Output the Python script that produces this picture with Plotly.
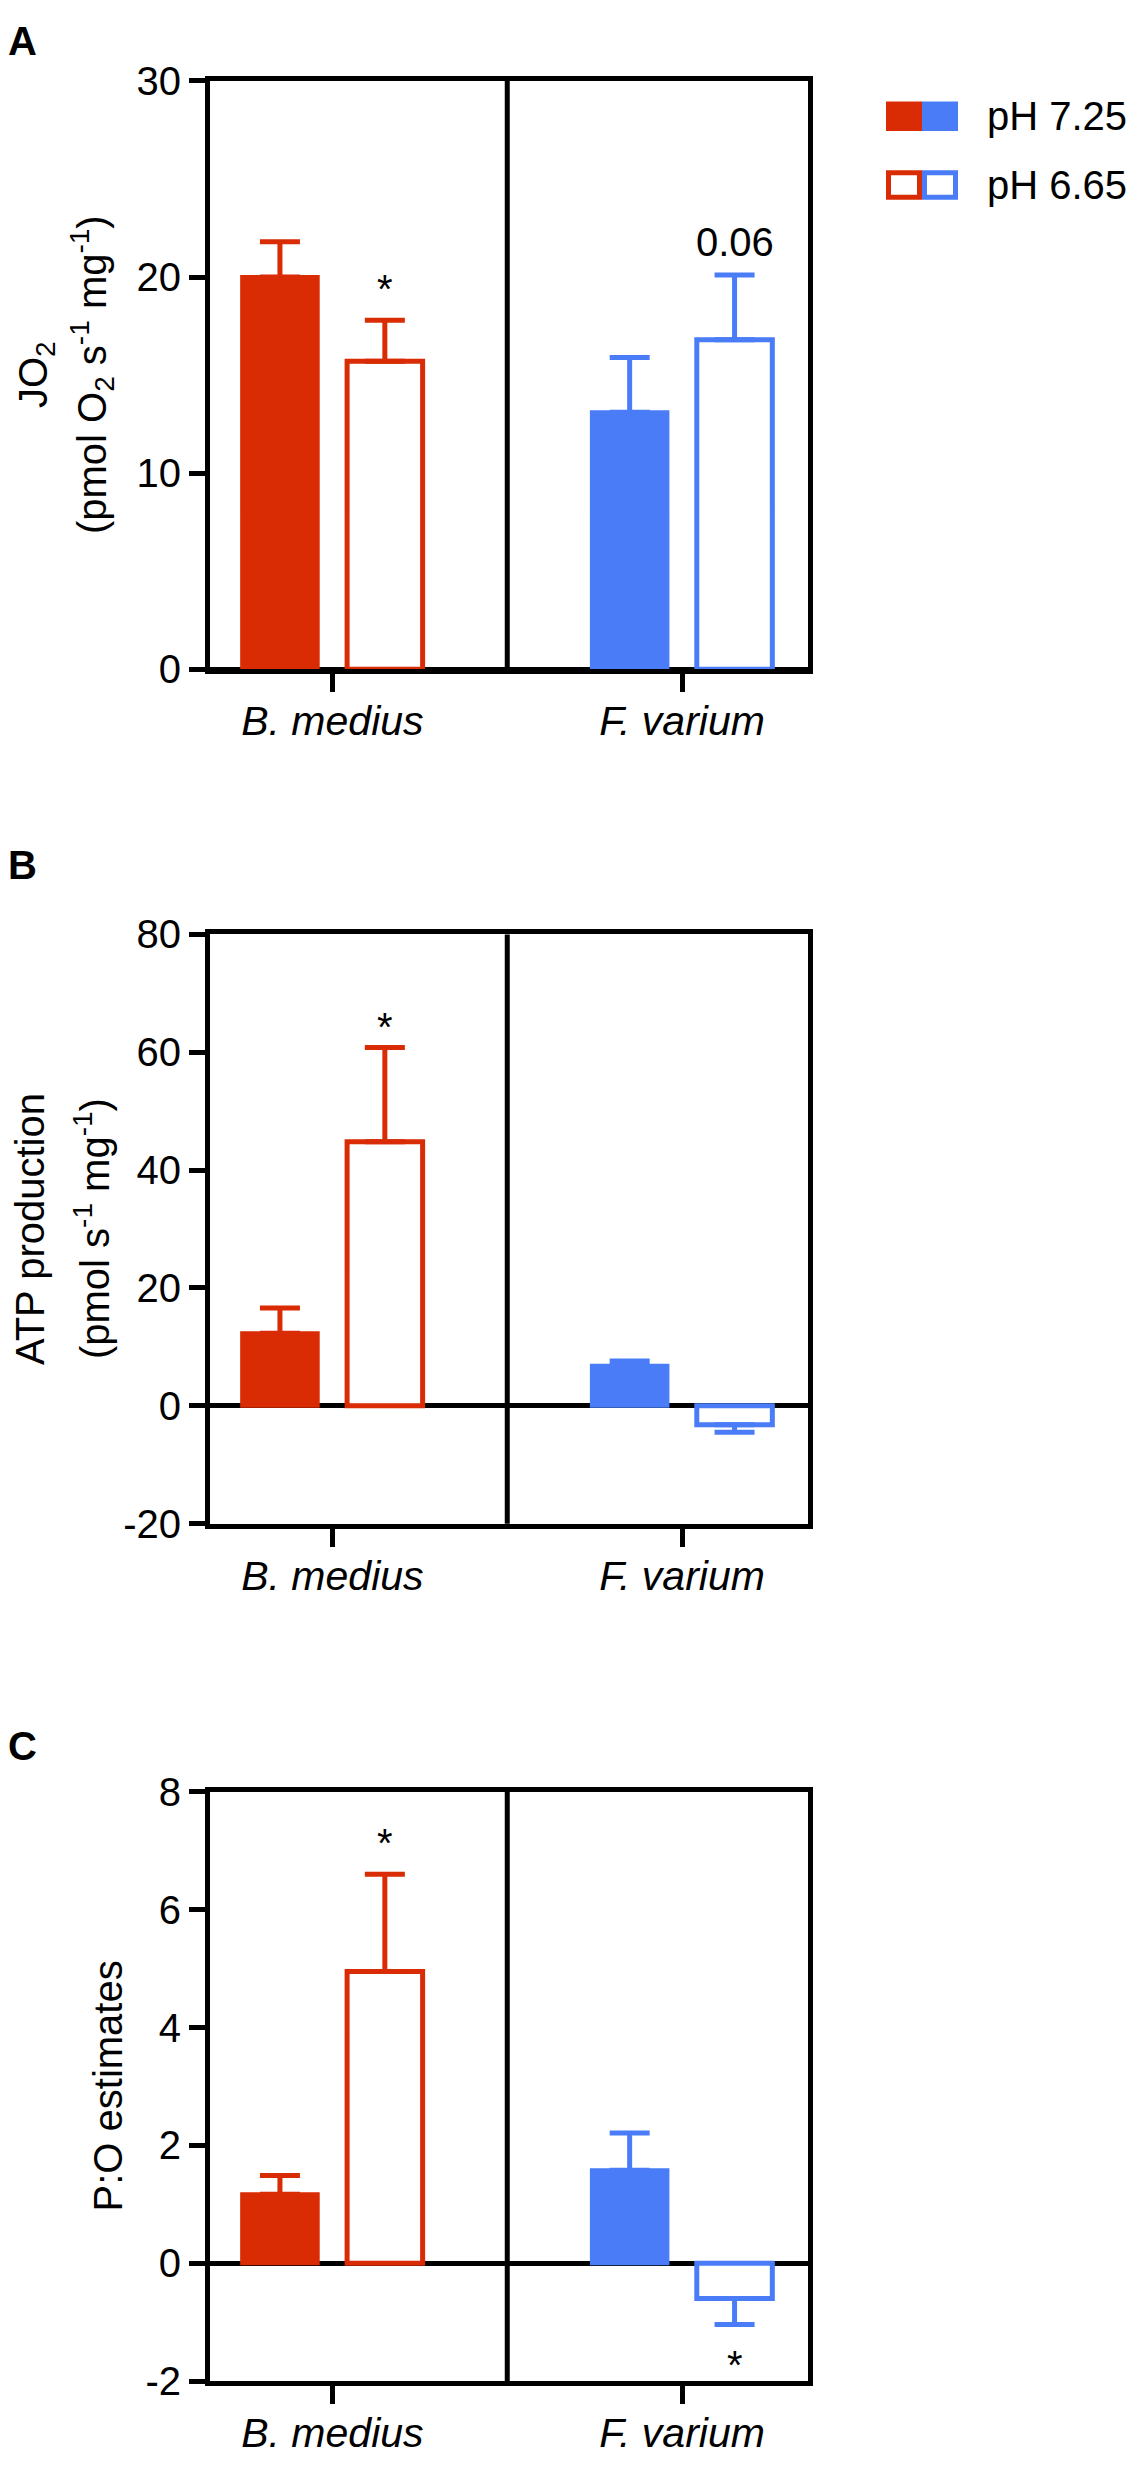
import plotly.graph_objects as go

# figure size and plot area (px)
W, H = 1134, 2465
L, R = 210, 808

RED = "#D92B04"
BLUE = "#4A7CF7"
FONT = "Arial, Liberation Sans, sans-serif"
FS = 40

species = ["B. medius", "F. varium"]
colors = [RED, BLUE]

# A: JO2
jo2_ph725 = [20.0, 13.1]
jo2_ph725_err = [1.8, 2.8]
jo2_ph665 = [15.7, 16.8]
jo2_ph665_err = [2.1, 3.3]

# B: ATP production
atp_ph725 = [12.3, 6.8]
atp_ph725_err = [4.3, 0.8]
atp_ph665 = [44.8, -3.2]
atp_ph665_err = [16.0, 1.3]

# C: P:O estimates
po_ph725 = [1.17, 1.58]
po_ph725_err = [0.32, 0.63]
po_ph665 = [4.95, -0.6]
po_ph665_err = [1.65, 0.44]

# significance marks over the pH 6.65 bars: (species index, text, y)
marks_a = [(0, "*", 19.4), (1, "0.06", 21.8)]
marks_b = [(0, "*", 64.3)]
marks_c = [(0, "*", 7.13), (1, "*", -1.72)]

# y ticks per panel
ticks_a = [0, 10, 20, 30]
ticks_b = [-20, 0, 20, 40, 60, 80]
ticks_c = [-2, 0, 2, 4, 6, 8]

# panel top/bottom in px
panel_px = [(60, 659), (929, 1529), (1802, 2402)]

BARGAP = 0.4


def px_x(p):
    return (p - L) / (R - L)


def px_y(p):
    return 1 - p / H


def split_err(v, e):
    # error bar only on the side away from zero
    return ([e], [0]) if v >= 0 else ([0], [e])


panels = [
    (jo2_ph725, jo2_ph725_err, jo2_ph665, jo2_ph665_err, marks_a, ticks_a),
    (atp_ph725, atp_ph725_err, atp_ph665, atp_ph665_err, marks_b, ticks_b),
    (po_ph725, po_ph725_err, po_ph665, po_ph665_err, marks_c, ticks_c),
]

fig = go.Figure()
annotations = []
shapes = []

for k, (v1, e1, v2, e2, marks, ticks) in enumerate(panels):
    sfx = "" if k == 0 else str(k + 1)
    xa, ya = "x" + sfx, "y" + sfx
    for i, sp in enumerate(species):
        c = colors[i]
        for vals, errs, group, filled in [(v1, e1, "a", True), (v2, e2, "b", False)]:
            up, dn = split_err(vals[i], errs[i])
            fig.add_trace(go.Bar(
                x=[sp], y=[vals[i]], offsetgroup=group,
                xaxis=xa, yaxis=ya, showlegend=False,
                marker=dict(color=c if filled else "white",
                            line=dict(color=c, width=4 if filled else 5)),
                error_y=dict(type="data", symmetric=False, array=up, arrayminus=dn,
                             color=c, thickness=5, width=20),
            ))
    off = (1 - BARGAP) / 4
    for i, txt, y in marks:
        annotations.append(dict(x=i + off, y=y, xref=xa, yref=ya, text=txt,
                                showarrow=False, font=dict(size=FS)))
    # divider between species
    shapes.append(dict(type="line", xref=xa, yref=ya + " domain", x0=0.5, x1=0.5,
                       y0=0, y1=1, line=dict(color="black", width=5), layer="above"))

    top, bot = panel_px[k]
    fig.layout["xaxis" + sfx] = dict(
        type="category", categoryorder="array", categoryarray=species,
        range=[-0.35, 1.36], anchor=ya, domain=[0, 1],
        showline=True, linewidth=5, linecolor="black", mirror=True,
        ticks="outside", ticklen=18, tickwidth=5, tickcolor="black",
        tickfont=dict(size=FS + 1, style="italic"), ticklabelstandoff=-6,
        showgrid=False, zeroline=False,
    )
    fig.layout["yaxis" + sfx] = dict(
        range=[ticks[0], ticks[-1]], tickmode="array", tickvals=ticks,
        ticktext=[str(t) for t in ticks], anchor=xa,
        domain=[px_y(bot), px_y(top)],
        showline=True, linewidth=5, linecolor="black", mirror=True,
        ticks="outside", ticklen=16, tickwidth=5, tickcolor="black",
        tickfont=dict(size=FS), showgrid=False,
        zeroline=True, zerolinecolor="black", zerolinewidth=5,
    )

# axis titles (two lines placed separately)
titles = [
    [("JO<sub>2</sub>", 36), ("(pmol O<sub>2</sub> s<sup>-1</sup> mg<sup>-1</sup>)", 92)],
    [("ATP production", 30), ("(pmol s<sup>-1</sup> mg<sup>-1</sup>)", 92)],
    [("P:O estimates", 108)],
]
for k, lines in enumerate(titles):
    ya = "y" + ("" if k == 0 else str(k + 1))
    for txt, xc in lines:
        annotations.append(dict(x=px_x(xc), y=0.5, xref="paper", yref=ya + " domain",
                                text=txt, textangle=-90, showarrow=False,
                                xanchor="center", yanchor="middle", font=dict(size=FS)))

# panel letters
for letter, yc in [("A", 19), ("B", 858), ("C", 1755)]:
    annotations.append(dict(x=px_x(6), y=px_y(yc), xref="paper", yref="paper",
                            text="<b>" + letter + "</b>", showarrow=False,
                            xanchor="left", yanchor="middle", font=dict(size=FS)))

# legend: split swatches
leg_rows = [("pH 7.25", 96, True), ("pH 6.65", 166, False)]
for label, yc, filled in leg_rows:
    for j, c in enumerate(colors):
        x0 = 886 + j * 36
        if filled:
            shapes.append(dict(type="rect", xref="paper", yref="paper",
                               x0=px_x(x0), x1=px_x(x0 + 36), y0=px_y(yc - 15), y1=px_y(yc + 15),
                               fillcolor=c, line=dict(width=0)))
        else:
            shapes.append(dict(type="rect", xref="paper", yref="paper",
                               x0=px_x(x0 + 2.5), x1=px_x(x0 + 33.5), y0=px_y(yc - 12.5),
                               y1=px_y(yc + 12.5), fillcolor="white", line=dict(color=c, width=5)))
    annotations.append(dict(x=px_x(985), y=px_y(yc), xref="paper", yref="paper",
                            text=label, showarrow=False, xanchor="left", yanchor="middle",
                            font=dict(size=FS)))

fig.update_layout(
    width=W, height=H,
    margin=dict(l=L, r=W - R, t=0, b=0),
    plot_bgcolor="white", paper_bgcolor="white",
    barmode="group", bargap=BARGAP, bargroupgap=0.28,
    font=dict(family=FONT, size=FS, color="black"),
    annotations=annotations, shapes=shapes,
)

fig.write_html("out.html", config={"displayModeBar": False},
               post_script="document.body.style.margin='0';")
